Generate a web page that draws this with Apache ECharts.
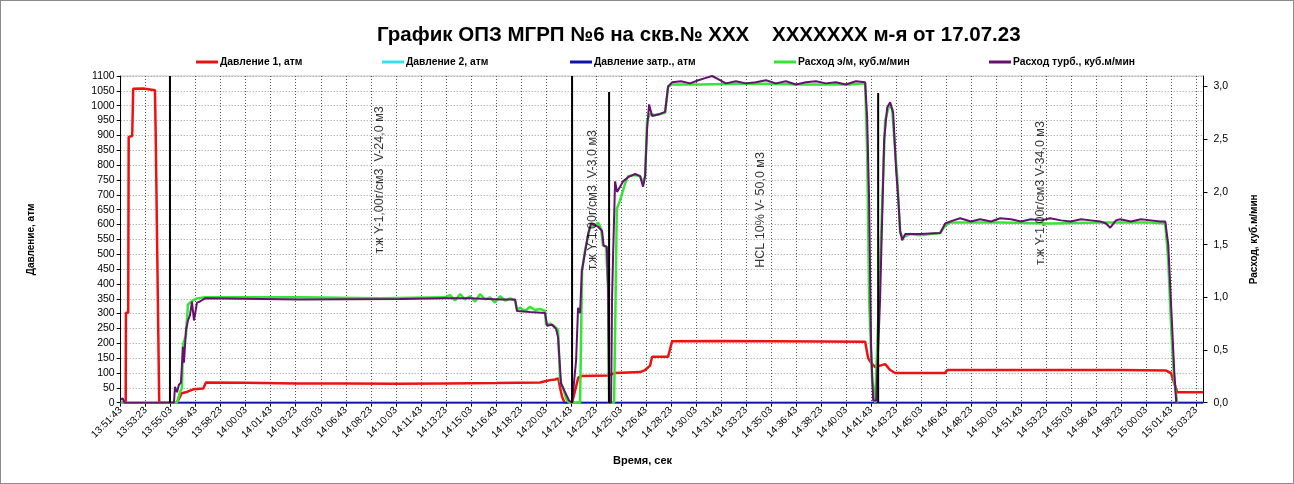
<!DOCTYPE html>
<html><head><meta charset="utf-8">
<script src="https://cdn.jsdelivr.net/npm/echarts@6.0.0/dist/echarts.min.js"></script>
<style>html,body{margin:0;padding:0;background:#fff}#c{width:1294px;height:484px;box-sizing:border-box;border:1px solid #8c8c8c}</style>
</head><body><div id="c"></div><script>
// time = seconds elapsed since 13:51:43
const START_CLOCK = '13:51:43';
const X_MAX = 4330;

// Давление 1, атм
const p1T = [0,20,21,30,32,46,50,90,95,137,140,154,225,244,260,290,330,341,500,700,900,1100,1300,1500,1677,1697,1717,1737,1750,1757,1765,1775,1805,1830,1845,1949,1960,1977,2077,2097,2117,2125,2189,2205,2400,2600,2800,2977,2989,3000,3017,3037,3057,3077,3097,3297,3305,3700,4000,4180,4200,4225,4329];
const p1V = [0,0,303,303,895,898,1057,1058,1052,1052,900,0,0,32,35,45,48,68,67,65,65,64,65,66,68,72,76,78,82,50,20,0,0,85,90,92,95,100,103,110,125,155,155,207,208,207,206,205,150,135,120,125,130,110,100,100,110,110,110,108,100,35,35];

// Давление 2, атм / Давление затр., атм
const p2T = [225,4329];
const p2V = [0,0];
const pzT = [225,4329];
const pzV = [0,0];

// Расход э/м, куб.м/мин
const qeT = [0,225,237,245,249,261,269,277,289,305,337,717,1037,1297,1317,1337,1357,1377,1397,1417,1437,1457,1477,1497,1517,1537,1557,1577,1585,1597,1617,1637,1657,1677,1697,1701,1717,1737,1749,1757,1769,1781,1793,1837,1845,1857,1877,1897,1909,1921,1929,1941,1949,1953,1973,1984,1997,2017,2029,2057,2077,2089,2097,2105,2117,2137,2157,2177,2189,2205,2317,2517,2717,2917,2977,2985,2993,3005,3017,3029,3057,3073,3085,3097,3105,3117,3129,3157,3197,3237,3277,3297,3317,3517,3717,3917,4117,4177,4189,4201,4213,4225];
const qeV = [0,0,0.10,0.14,0.55,0.64,0.93,0.95,0.97,0.99,1.00,1.00,0.99,1.00,1.02,0.97,1.03,0.98,1.01,0.96,1.03,0.98,1.00,0.95,1.01,0.97,0.99,0.97,0.88,0.90,0.87,0.91,0.88,0.89,0.87,0.74,0.75,0.72,0.69,0.21,0.14,0.04,0,0,1.25,1.45,1.67,1.68,1.71,1.65,1.49,1.48,1.07,0,0,1.84,1.92,2.08,2.15,2.16,2.15,2.08,2.15,2.68,2.74,2.73,2.74,2.75,3.00,3.02,3.02,3.03,3.02,3.02,3.03,2.39,0.97,0.21,0,0.78,2.68,2.82,2.79,2.39,2.15,1.61,1.57,1.60,1.59,1.60,1.61,1.68,1.71,1.71,1.70,1.71,1.71,1.70,1.35,0.69,0.21,0];

// Расход турб., куб.м/мин
const qtT = [0,8,14,16,213,217,225,233,241,247,249,253,261,269,277,285,293,305,317,337,717,1117,1297,1397,1517,1577,1585,1637,1697,1705,1725,1741,1749,1761,1777,1793,1805,1821,1829,1837,1844,1857,1869,1881,1909,1925,1931,1944,1949,1953,1961,1965,1969,1977,1985,1997,2009,2029,2057,2077,2089,2097,2105,2113,2125,2157,2177,
  2189,2205,2240,2277,2310,2337,2365,2389,2420,2460,2500,2540,2580,2620,2660,2700,2740,2780,2820,2860,2900,2940,2977,
  2985,2993,3001,3009,3021,3037,3053,3065,3077,3089,3101,3109,3117,3125,3137,3197,3277,3297,
  3330,3357,3400,3437,3480,3517,3560,3600,3640,3680,3717,3760,3800,3840,3880,3917,3940,3957,3980,3997,4040,4080,4120,4157,4177,4189,4201,4213,4221];
const qtV = [0.03,0.04,0.05,0,0,0.15,0.10,0.17,0.19,0.20,0.53,0.38,0.69,0.78,0.83,0.96,0.78,0.95,0.96,0.99,0.98,0.985,0.99,0.99,0.98,0.98,0.87,0.86,0.85,0.73,0.74,0.70,0.62,0.18,0.10,0.02,0,0.4,0.9,0.85,1.25,1.43,1.60,1.70,1.67,1.63,1.49,1.48,1.10,0,0,1.0,1.4,2.1,2.0,2.05,2.1,2.14,2.17,2.15,2.05,2.15,2.6,2.83,2.72,2.74,2.76,
  3.0,3.04,3.05,3.03,3.06,3.08,3.10,3.07,3.03,3.05,3.03,3.04,3.06,3.03,3.05,3.02,3.04,3.05,3.03,3.04,3.02,3.05,3.04,
  2.7,1.9,0.5,0.02,0.02,1.0,2.5,2.8,2.85,2.75,2.2,1.95,1.63,1.54,1.6,1.6,1.61,1.7,
  1.73,1.75,1.72,1.74,1.72,1.75,1.74,1.72,1.74,1.73,1.75,1.73,1.72,1.74,1.73,1.72,1.70,1.66,1.73,1.74,1.72,1.74,1.73,1.72,1.72,1.5,0.9,0.3,0];

// vertical marker lines (time, top value on pressure axis)
const markT = [197,1805,1953,3029];
const markTop = [1100,1100,1046,1043];

// annotations: time, pressure-axis position, text
const noteT = [1037,1885,2557,3677];
const noteP = [750,682,649,706];
const noteText = ['т.ж Y-1,00г/см3  V-24,0 м3','т.ж Y-1,00г/см3  V-3,0 м3','HCL 10% V- 50,0 м3','т.ж Y-1,00г/см3 V-34,0 м3'];

const legendNames = ['Давление 1, атм','Давление 2, атм','Давление затр., атм','Расход э/м, куб.м/мин','Расход турб., куб.м/мин'];
const colors = ['#EE1111','#33E0F0','#1010B0','#33E633','#66106F'];

function zip(a,b){return a.map((v,i)=>[v,b[i]]);}
const s0 = START_CLOCK.split(':').map(Number);
const startSec = s0[0]*3600+s0[1]*60+s0[2];
function clock(t){
  const s = startSec + Math.round(t);
  const h = Math.floor(s/3600), m = Math.floor(s%3600/60), ss = s%60;
  return h+':'+String(m).padStart(2,'0')+':'+String(ss).padStart(2,'0');
}
const FONT = 'Liberation Sans, Arial, sans-serif';

const chart = echarts.init(document.getElementById('c'), null, {renderer:'canvas'});
const series = [
  {name:legendNames[0], type:'line', yAxisIndex:0, data:zip(p1T,p1V), showSymbol:false, lineStyle:{width:2.5,color:colors[0]}, itemStyle:{color:colors[0]}, z:3},
  {name:legendNames[1], type:'line', yAxisIndex:0, data:zip(p2T,p2V), showSymbol:false, lineStyle:{width:2,color:colors[1]}, itemStyle:{color:colors[1]}, z:3},
  {name:legendNames[2], type:'line', yAxisIndex:0, data:zip(pzT,pzV), showSymbol:false, lineStyle:{width:2,color:colors[2]}, itemStyle:{color:colors[2]}, z:3},
  {name:legendNames[3], type:'line', yAxisIndex:1, data:zip(qeT,qeV), showSymbol:false, lineStyle:{width:2.5,color:colors[3]}, itemStyle:{color:colors[3]}, z:3},
  {name:legendNames[4], type:'line', yAxisIndex:1, data:zip(qtT,qtV), showSymbol:false, lineStyle:{width:2,color:colors[4]}, itemStyle:{color:colors[4]}, z:3}
];
markT.forEach((t,i)=>{
  series.push({name:'mark'+i, type:'line', yAxisIndex:0, data:[[t,0],[t,markTop[i]]], showSymbol:false, silent:true,
    lineStyle:{width:2,color:'#000'}, z:4});
});
series.push({name:'notes', type:'scatter', yAxisIndex:0, symbolSize:0, silent:true, z:5,
  data:noteT.map((t,i)=>[t,noteP[i],noteText[i]]),
  label:{show:true, position:'inside', rotate:90, formatter:p=>p.data[2], color:'#000', fontSize:12.5, fontFamily:'Liberation Sans Narrow, Arial Narrow, sans-serif'}});

const legendLeft = [190,376,564,768,983];
const option = {
  animation:false,
  backgroundColor:'#fff',
  textStyle:{fontFamily:FONT},
  title:[
    {text:'График ОПЗ МГРП №6 на скв.№ XXX    XXXXXXX м-я от 17.07.23', left:371, top:19,
     textStyle:{fontSize:20.5, fontWeight:'bold', color:'#000', fontFamily:FONT}},
    {text:'Время, сек', left:607, top:449, textStyle:{fontSize:11, fontWeight:'bold', color:'#000', fontFamily:FONT}}
  ],
  legend: legendNames.map((n,i)=>({data:[n], left:legendLeft[i], top:51, icon:'rect', itemWidth:22, itemHeight:3, itemGap:4,
    textStyle:{fontSize:10.3, fontWeight:'bold', color:'#000', fontFamily:FONT, padding:[0,0,0,-3]}})),
  grid:{left:119.7, right:89.5, top:75, bottom:80.3, show:true, borderColor:'#c8c8c8', borderWidth:1},
  xAxis:{type:'value', min:0, max:X_MAX, interval:100,
    axisLine:{show:true, onZero:false, lineStyle:{color:'#000'}},
    axisTick:{show:true, length:4, lineStyle:{color:'#000'}},
    axisLabel:{rotate:45, fontSize:10, color:'#000', fontFamily:FONT, formatter:clock, showMaxLabel:false, margin:6},
    splitLine:{show:true, lineStyle:{color:'#555', type:[1,2], width:1}}},
  yAxis:[
    {type:'value', min:0, max:1100, interval:50, position:'left',
     axisLine:{show:true, lineStyle:{color:'#000'}},
     axisTick:{show:true, length:4, lineStyle:{color:'#000'}},
     axisLabel:{fontSize:10.5, color:'#000', fontFamily:FONT, margin:6, formatter:v=>String(v)},
     splitLine:{show:true, lineStyle:{color:'#999', type:[1,2], width:1}},
     name:'Давление, атм', nameLocation:'middle', nameRotate:90, nameGap:84,
     nameTextStyle:{fontSize:10, fontWeight:'bold', color:'#000', fontFamily:FONT}},
    {type:'value', min:0, max:3.1, interval:0.5, position:'right',
     axisLine:{show:true, lineStyle:{color:'#000'}},
     axisTick:{show:true, length:4, lineStyle:{color:'#000'}},
     axisLabel:{fontSize:10.5, color:'#000', fontFamily:FONT, margin:10, showMaxLabel:false,
       formatter:v=>v.toFixed(1).replace('.',',')},
     splitLine:{show:false},
     name:'Расход, куб.м/мин', nameLocation:'middle', nameRotate:90, nameGap:46,
     nameTextStyle:{fontSize:10, fontWeight:'bold', color:'#000', fontFamily:FONT}}
  ],
  series
};
chart.setOption(option);
</script></body></html>
